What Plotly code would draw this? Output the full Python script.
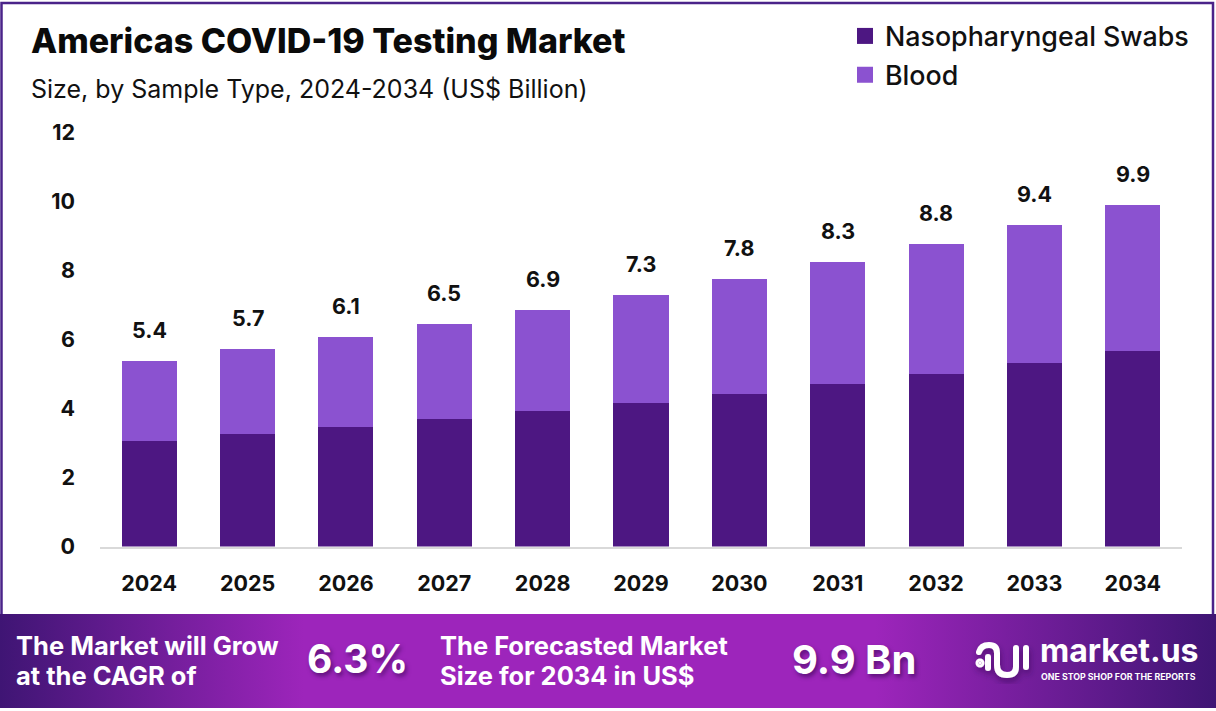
import base64
import plotly.graph_objects as go

years = ["2024", "2025", "2026", "2027", "2028", "2029", "2030", "2031", "2032", "2033", "2034"]
swabs = [3.06, 3.26, 3.46, 3.70, 3.93, 4.16, 4.42, 4.71, 5.00, 5.32, 5.67]
blood = [2.32, 2.46, 2.61, 2.75, 2.92, 3.13, 3.33, 3.54, 3.77, 4.00, 4.23]
totals = ["5.4", "5.7", "6.1", "6.5", "6.9", "7.3", "7.8", "8.3", "8.8", "9.4", "9.9"]
y_ticks = [0, 2, 4, 6, 8, 10, 12]

W, H = 1216, 711
FONT = "Inter"
DARK = "#4d1782"
LIGHT = "#8b52d0"
BORDER = "#4a2389"


def px(x):
    return x / W


def py(y):
    return 1 - y / H


# banner gradient and logo as an svg image (y is measured from the banner top, 614)
banner_svg = """<svg xmlns='http://www.w3.org/2000/svg' width='1216' height='94'>
<defs><linearGradient id='g' x1='0' x2='1' y1='0' y2='0'>
<stop offset='0' stop-color='#3f1574'/><stop offset='0.25' stop-color='#9d25bb'/>
<stop offset='0.72' stop-color='#9d25bb'/><stop offset='1' stop-color='#3f1574'/>
</linearGradient>
<filter id='s' x='-30%' y='-30%' width='160%' height='160%'><feDropShadow dx='1' dy='4' stdDeviation='3' flood-color='#2a0046' flood-opacity='0.5'/></filter>
</defs><rect width='1216' height='94' fill='url(#g)'/>
<g filter='url(#s)' fill='none' stroke='#ffffff' stroke-width='6' stroke-linecap='round'>
<path d='M 979 38 Q 981 31 989 31 Q 997 31 997 39 L 997 51 Q 997 61 1007 61 Q 1016 61 1016 53 L 1016 34'/>
<path d='M 988 43 L 988 54'/><path d='M 1026 34 L 1026 53'/>
<circle cx='980' cy='49' r='1.5' fill='#ffffff'/>
</g></svg>"""
banner_src = "data:image/svg+xml;base64," + base64.b64encode(banner_svg.encode()).decode()

fig = go.Figure()
fig.add_trace(go.Bar(x=years, y=swabs, marker_color=DARK, marker_line_width=0, width=0.56, showlegend=False))
fig.add_trace(go.Bar(x=years, y=blood, marker_color=LIGHT, marker_line_width=0, width=0.56, showlegend=False))
# square legend keys, no visible points
fig.add_trace(go.Scatter(x=years[:1], y=[None], mode="markers", name="Nasopharyngeal Swabs",
                         legendgroup="a", marker=dict(symbol="square", size=17, color=DARK)))
fig.add_trace(go.Scatter(x=years[:1], y=[None], mode="markers", name="Blood",
                         legendgroup="b", marker=dict(symbol="square", size=17, color=LIGHT)))

# category position, the year strings get read as numbers on annotations
for i, (a, b, label) in enumerate(zip(swabs, blood, totals)):
    fig.add_annotation(x=i, y=a + b, text=label, showarrow=False, yshift=31,
                       font=dict(family=FONT, size=21.5, color="#111111", weight=700))


def paper_text(x, y, text, size, weight=700, color="#ffffff", anchor="left", shadow=None):
    fig.add_annotation(xref="paper", yref="paper", x=px(x), y=py(y), text=text, showarrow=False,
                       xanchor=anchor, yanchor="middle", align="left", xshift=-2,
                       font=dict(family=FONT, size=size, color=color, weight=weight, shadow=shadow))


SHADOW = "2px 3px 4px rgba(40,0,70,0.55)"
paper_text(31, 40, "Americas COVID-19 Testing Market", 34, weight=800, color="#0a0a0a")
paper_text(31, 89, "Size, by Sample Type, 2024-2034 (US$ Billion)", 25, weight=400, color="#111111")
paper_text(16, 645, "The Market will Grow", 25.5)
paper_text(16, 675, "at the CAGR of", 25.5)
paper_text(307, 658, "6.3%", 39, shadow=SHADOW)
paper_text(440, 645, "The Forecasted Market", 25.5)
paper_text(440, 675, "Size for 2034 in US$", 25.5)
paper_text(792, 659, "9.9 Bn", 40, shadow=SHADOW)
paper_text(1040, 650, "market.us", 32)
paper_text(1041, 676, "ONE STOP SHOP FOR THE REPORTS", 8.8)

frame = dict(type="path", xref="paper", yref="paper", line=dict(color=BORDER, width=2.5),
             path=f"M {px(1.5)} {py(614)} L {px(1.5)} {py(3)} L {px(1213)} {py(3)} L {px(1213)} {py(614)}")

fig.update_layout(
    width=W,
    height=H,
    barmode="stack",
    plot_bgcolor="#ffffff",
    paper_bgcolor="#ffffff",
    margin=dict(l=0, r=0, t=0, b=0, autoexpand=False),
    shapes=[frame],
    images=[dict(source=banner_src, xref="paper", yref="paper", x=0, y=py(614), sizex=1, sizey=94 / H,
                 xanchor="left", yanchor="top", sizing="stretch", layer="below")],
    legend=dict(x=px(845), y=py(12), xanchor="left", yanchor="top", traceorder="grouped",
                tracegroupgap=1, bgcolor="rgba(0,0,0,0)",
                font=dict(family=FONT, size=26.8, color="#111111", weight=500)),
    xaxis=dict(domain=[px(100), px(1182)], type="category", categoryorder="array", categoryarray=years,
               range=[-0.5, 10.5], showgrid=False, showline=True, linecolor="#d9d9d9", linewidth=1.5, ticks="",
               ticklabelstandoff=17, automargin=False, tickfont=dict(family=FONT, size=21.5, color="#111111", weight=700)),
    yaxis=dict(domain=[py(546.5), py(132)], range=[0, 12], tickvals=y_ticks, showgrid=False, zeroline=False,
               ticks="", ticklabelstandoff=24, automargin=False,
               tickfont=dict(family=FONT, size=21.5, color="#111111", weight=700)),
)

fig.write_html("out.html", config=dict(displayModeBar=False), post_script="document.body.style.margin = '0';")
